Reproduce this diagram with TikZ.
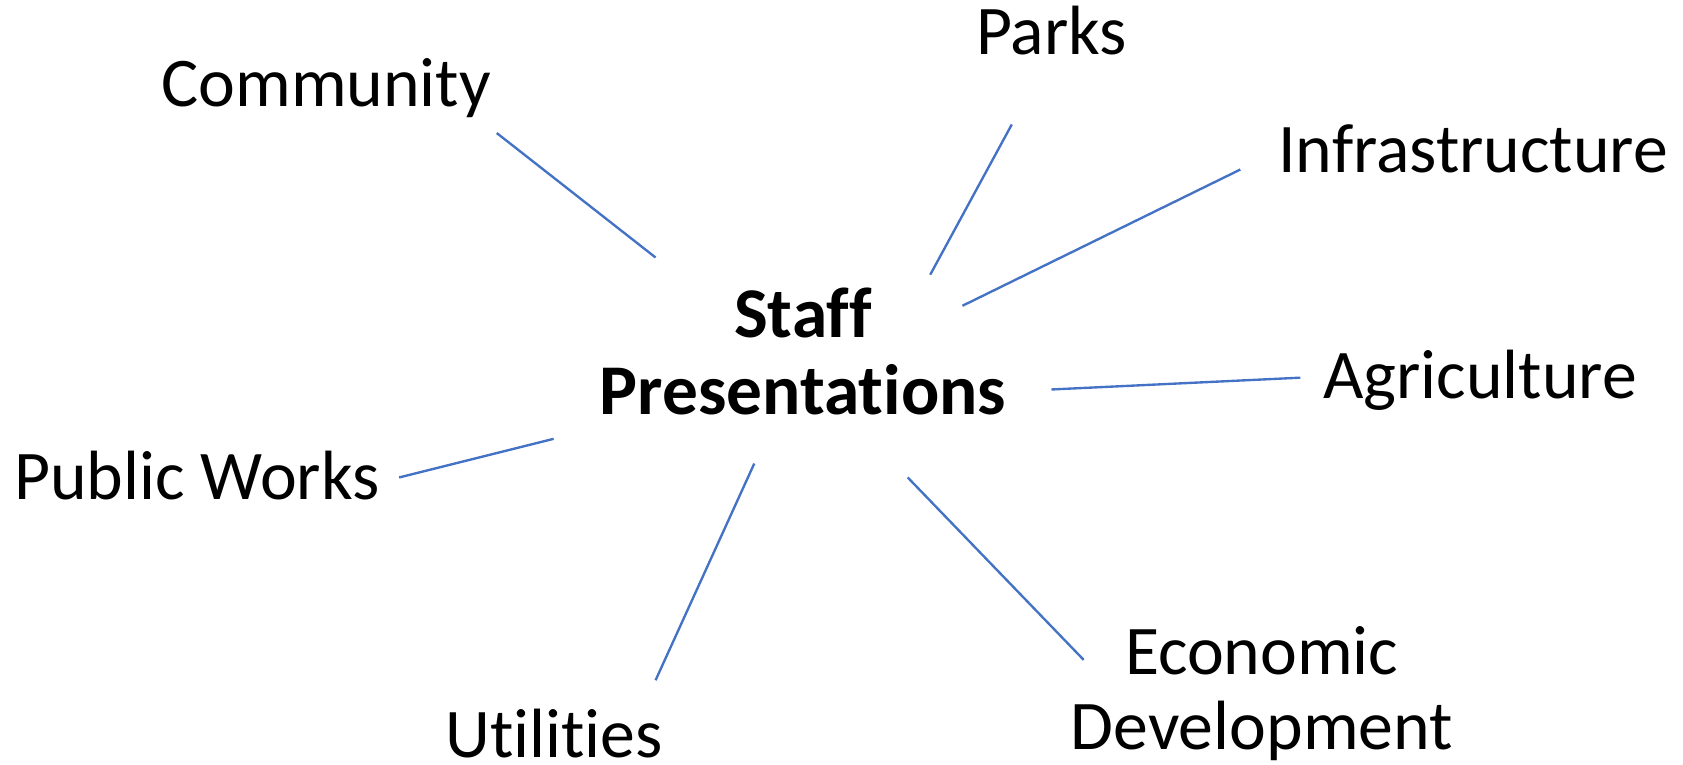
\documentclass[tikz,border=0pt]{standalone}
\usepackage{fontspec}
\setmainfont[Ligatures=NoCommon]{Carlito}
\definecolor{linkblue}{HTML}{4472C4}
\begin{document}
\begin{tikzpicture}[x=1pt,y=-1pt,
  lbl/.style={inner sep=0pt,anchor=base,align=center,font=\fontsize{65}{70}\selectfont},
  hub/.style={lbl,font=\fontsize{66.5}{71}\selectfont\bfseries},
  link/.style={draw=linkblue,line width=2.2pt}]
\useasboundingbox (0,0) rectangle (1568.6,712.9);
\node[hub] (staff) at (748.5,386) {Staff\\Presentations};
\node[lbl] (community) at (304,99) {Community};
\node[lbl] (parks) at (980,51) {Parks};
\node[lbl] (infra) at (1373,161) {Infrastructure};
\node[lbl] (agri) at (1379.5,371) {Agriculture};
\node[lbl] (public) at (183.5,466) {Public Works};
\node[lbl,text depth=0pt] (util) at (516.5,706) {Utilities};
\node[lbl] (econ) at (1176,699) {Economic\\Development};
\coordinate (c1a) at (463,124); \coordinate (c1b) at (611,240);
\coordinate (c2a) at (943,116); \coordinate (c2b) at (867,256);
\coordinate (c3a) at (1156,158); \coordinate (c3b) at (897,285);
\coordinate (c4a) at (1212,352); \coordinate (c4b) at (980,363);
\coordinate (c5a) at (516,409); \coordinate (c5b) at (372,445);
\coordinate (c6a) at (703,432); \coordinate (c6b) at (611,634);
\coordinate (c7a) at (846,445); \coordinate (c7b) at (1010,615);
\draw[link] (c1a) -- (c1b);
\draw[link] (c2a) -- (c2b);
\draw[link] (c3a) -- (c3b);
\draw[link] (c4a) -- (c4b);
\draw[link] (c5a) -- (c5b);
\draw[link] (c6a) -- (c6b);
\draw[link] (c7a) -- (c7b);
\end{tikzpicture}
\end{document}
